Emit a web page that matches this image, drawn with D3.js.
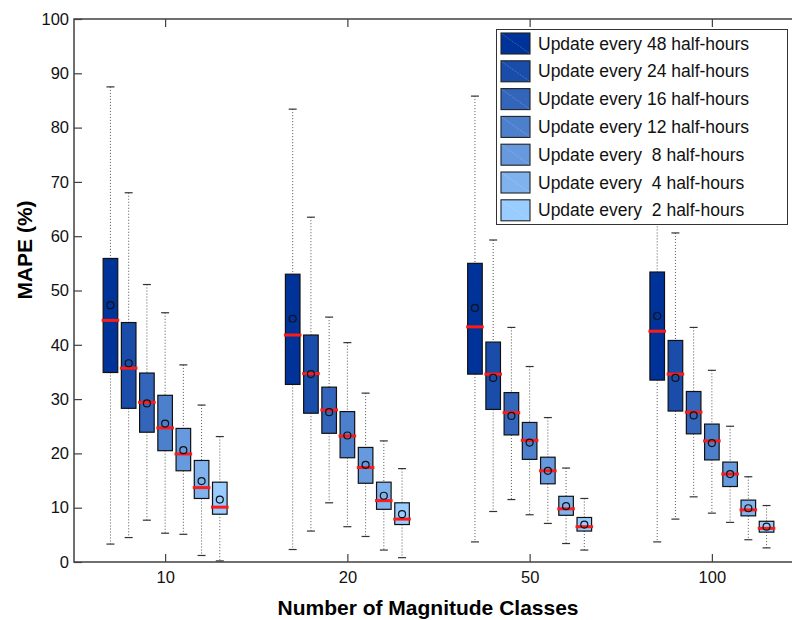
<!DOCTYPE html>
<html>
<head>
<meta charset="utf-8">
<script src="https://cdn.jsdelivr.net/npm/d3@7"></script>
<style>
  html, body { margin: 0; padding: 0; background: #fff; }
  svg { display: block; font-family: Arial, "Liberation Sans", Helvetica, sans-serif; }
</style>
</head>
<body>
<div id="chart"></div>
<script>
// Categories on the x axis (number of magnitude classes).
const categories = ['10', '20', '50', '100'];
// One series per update interval.
const seriesLabels = [
    'Update every 48 half-hours',
    'Update every 24 half-hours',
    'Update every 16 half-hours',
    'Update every 12 half-hours',
    'Update every  8 half-hours',
    'Update every  4 half-hours',
    'Update every  2 half-hours'
];
const seriesColors = ['#003399', '#1a4daa', '#3366bb', '#4d80cc', '#6699dd', '#80b3ee', '#99ccff'];
const yTicks = [0, 10, 20, 30, 40, 50, 60, 70, 80, 90, 100];

// Box statistics, one row per series, one value per category.
const whiskerHigh = [
    [87.5, 83.4, 85.8, 85.0],
    [68.0, 63.5, 59.3, 60.6],
    [51.1, 45.1, 43.2, 43.2],
    [45.9, 40.4, 36.0, 35.3],
    [36.3, 31.1, 26.6, 25.0],
    [28.9, 22.3, 17.3, 15.7],
    [23.1, 17.2, 11.7, 10.4]
];
const q3 = [
    [55.9, 53.0, 55.0, 53.4],
    [44.1, 41.8, 40.5, 40.8],
    [34.8, 32.2, 31.2, 31.4],
    [30.7, 27.7, 25.7, 25.4],
    [24.6, 21.1, 19.3, 18.4],
    [18.7, 14.7, 12.1, 11.4],
    [14.7, 10.9, 8.2, 7.5]
];
const medians = [
    [44.5, 41.8, 43.3, 42.5],
    [35.7, 34.7, 34.6, 34.6],
    [29.4, 28.0, 27.5, 27.6],
    [24.7, 23.2, 22.4, 22.3],
    [19.9, 17.4, 16.8, 16.2],
    [13.7, 11.3, 9.8, 9.6],
    [10.1, 7.9, 6.5, 6.2]
];
const means = [
    [47.3, 44.8, 46.8, 45.3],
    [36.6, 34.6, 33.9, 33.9],
    [29.2, 27.6, 26.9, 27.0],
    [25.5, 23.3, 22.0, 21.9],
    [20.6, 17.9, 16.8, 16.2],
    [14.9, 12.2, 10.3, 9.9],
    [11.5, 8.8, 6.9, 6.5]
];
const q1 = [
    [34.9, 32.7, 34.6, 33.5],
    [28.3, 27.4, 28.1, 27.8],
    [23.9, 23.7, 23.4, 23.6],
    [20.5, 19.2, 18.9, 18.8],
    [16.8, 14.5, 14.4, 13.9],
    [11.7, 9.7, 8.6, 8.5],
    [8.8, 6.9, 5.7, 5.5]
];
const whiskerLow = [
    [3.3, 2.3, 3.7, 3.7],
    [4.5, 5.7, 9.3, 7.9],
    [7.7, 10.9, 11.5, 12.0],
    [5.3, 6.5, 8.7, 9.0],
    [5.1, 4.7, 7.1, 7.3],
    [1.2, 2.2, 3.4, 4.1],
    [0.2, 0.8, 2.2, 2.6]
];

const W = 792, H = 620;
const plot = {left: 74, right: 803, top: 19, bottom: 562};
const axisColor = '#404040';

const svg = d3.select('#chart')
    .append('svg')
        .attr('width', W)
        .attr('height', H)
        .attr('viewBox', `0 0 ${W} ${H}`);

// Scales: categories sit at 1..4, boxes are offset around them.
const x = d3.scaleLinear()
    .domain([0.5, categories.length + 0.5])
    .range([plot.left, plot.right]);
const y = d3.scaleLinear()
    .domain([0, 100])
    .range([plot.bottom, plot.top]);

const offset = 0.1;   // in category units between neighbouring boxes
const boxW = x(0.08) - x(0);
const capW = 8;
const medW = boxW + 3;

// Flatten into one record per box.
const boxes = [];
seriesLabels.forEach((label, s) => {
    categories.forEach((c, i) => {
        boxes.push({
            s, i,
            cx: x(i + 1 + (s - 3) * offset),
            hi: whiskerHigh[s][i], q3: q3[s][i], med: medians[s][i],
            mean: means[s][i], q1: q1[s][i], lo: whiskerLow[s][i]
        });
    });
});

const data = svg.append('g');

// Whiskers (dotted).
data.selectAll('line.wtop')
    .data(boxes)
    .enter()
    .append('line')
        .attr('x1', d => d.cx).attr('x2', d => d.cx)
        .attr('y1', d => y(d.hi)).attr('y2', d => y(d.q3))
        .attr('stroke', '#555').attr('stroke-width', 1)
        .attr('stroke-dasharray', '1,2');
data.selectAll('line.wbot')
    .data(boxes)
    .enter()
    .append('line')
        .attr('x1', d => d.cx).attr('x2', d => d.cx)
        .attr('y1', d => y(d.q1)).attr('y2', d => y(d.lo))
        .attr('stroke', '#555').attr('stroke-width', 1)
        .attr('stroke-dasharray', '1,2');

// Whisker caps.
['hi', 'lo'].forEach(k => {
    data.selectAll(`line.cap-${k}`)
        .data(boxes)
        .enter()
        .append('line')
            .attr('x1', d => d.cx - capW / 2).attr('x2', d => d.cx + capW / 2)
            .attr('y1', d => y(d[k])).attr('y2', d => y(d[k]))
            .attr('stroke', '#333').attr('stroke-width', 1.2);
});

// Boxes.
data.selectAll('rect.box')
    .data(boxes)
    .enter()
    .append('rect')
        .attr('x', d => d.cx - boxW / 2)
        .attr('y', d => y(d.q3))
        .attr('width', boxW)
        .attr('height', d => y(d.q1) - y(d.q3))
        .attr('fill', d => seriesColors[d.s])
        .attr('stroke', '#111')
        .attr('stroke-width', 1.2);

// Medians.
data.selectAll('line.med')
    .data(boxes)
    .enter()
    .append('line')
        .attr('x1', d => d.cx - medW / 2).attr('x2', d => d.cx + medW / 2)
        .attr('y1', d => y(d.med)).attr('y2', d => y(d.med))
        .attr('stroke', '#ff1a1a').attr('stroke-width', 3);

// Means.
data.selectAll('circle.mean')
    .data(boxes)
    .enter()
    .append('circle')
        .attr('cx', d => d.cx)
        .attr('cy', d => y(d.mean))
        .attr('r', 3.5)
        .attr('fill', 'none')
        .attr('stroke', '#111')
        .attr('stroke-width', 1.2);

// Axes: box on, ticks pointing inward on all sides.
const axes = svg.append('g');
axes.append('rect')
    .attr('x', plot.left).attr('y', plot.top)
    .attr('width', plot.right - plot.left).attr('height', plot.bottom - plot.top)
    .attr('fill', 'none').attr('stroke', axisColor).attr('stroke-width', 1.5);

const yAxis = axes.append('g')
    .attr('transform', `translate(${plot.left},0)`)
    .call(d3.axisLeft(y).tickValues(yTicks).tickSizeInner(-8).tickSizeOuter(0).tickPadding(5));
yAxis.select('.domain').remove();
yAxis.selectAll('line').attr('stroke', axisColor).attr('stroke-width', 1.2);
yAxis.selectAll('text').style('font-size', '16.5px').attr('fill', '#111');

const xTickScale = d3.axisBottom(x)
    .tickValues(categories.map((c, i) => i + 1))
    .tickFormat((d, i) => categories[i]);
const xAxis = axes.append('g')
    .attr('transform', `translate(0,${plot.bottom})`)
    .call(xTickScale.tickSizeInner(-8).tickSizeOuter(0).tickPadding(9));
xAxis.select('.domain').remove();
xAxis.selectAll('line').attr('stroke', axisColor).attr('stroke-width', 1.2);
xAxis.selectAll('text').style('font-size', '16.5px').attr('fill', '#111');

const xTop = axes.append('g')
    .attr('transform', `translate(0,${plot.top})`)
    .call(d3.axisTop(x).tickValues(categories.map((c, i) => i + 1)).tickFormat('').tickSizeInner(-8).tickSizeOuter(0));
xTop.select('.domain').remove();
xTop.selectAll('line').attr('stroke', axisColor).attr('stroke-width', 1.2);

// Axis titles.
svg.append('text')
    .attr('x', 428).attr('y', 615)
    .attr('text-anchor', 'middle')
    .style('font-size', '21px').style('font-weight', 'bold')
    .text('Number of Magnitude Classes');
svg.append('text')
    .attr('transform', 'translate(32,250) rotate(-90)')
    .attr('text-anchor', 'middle')
    .style('font-size', '21px').style('font-weight', 'bold')
    .text('MAPE (%)');

// Legend.
const legend = svg.append('g');
legend.append('rect')
    .attr('x', 496.5).attr('y', 29.5)
    .attr('width', 291).attr('height', 195)
    .attr('fill', '#fff').attr('stroke', '#333').attr('stroke-width', 1);
const rows = legend.selectAll('g.row')
    .data(seriesLabels)
    .enter()
    .append('g')
        .attr('transform', (d, i) => `translate(501,${33 + i * 27.8})`);
rows.append('rect')
    .attr('width', 29).attr('height', 21)
    .attr('fill', (d, i) => seriesColors[i])
    .attr('stroke', '#222').attr('stroke-width', 1.1);
rows.append('line')
    .attr('x1', 1).attr('y1', 1).attr('x2', 28).attr('y2', 20)
    .attr('stroke', 'rgba(255,255,255,0.35)').attr('stroke-width', 0.8)
    .attr('stroke-dasharray', '1,1');
rows.append('text')
    .attr('x', 37).attr('y', 10.5)
    .attr('dy', '0.35em')
    .style('font-size', '17.5px')
    .style('white-space', 'pre')
    .attr('fill', '#111')
    .text(d => d);
</script>
</body>
</html>
